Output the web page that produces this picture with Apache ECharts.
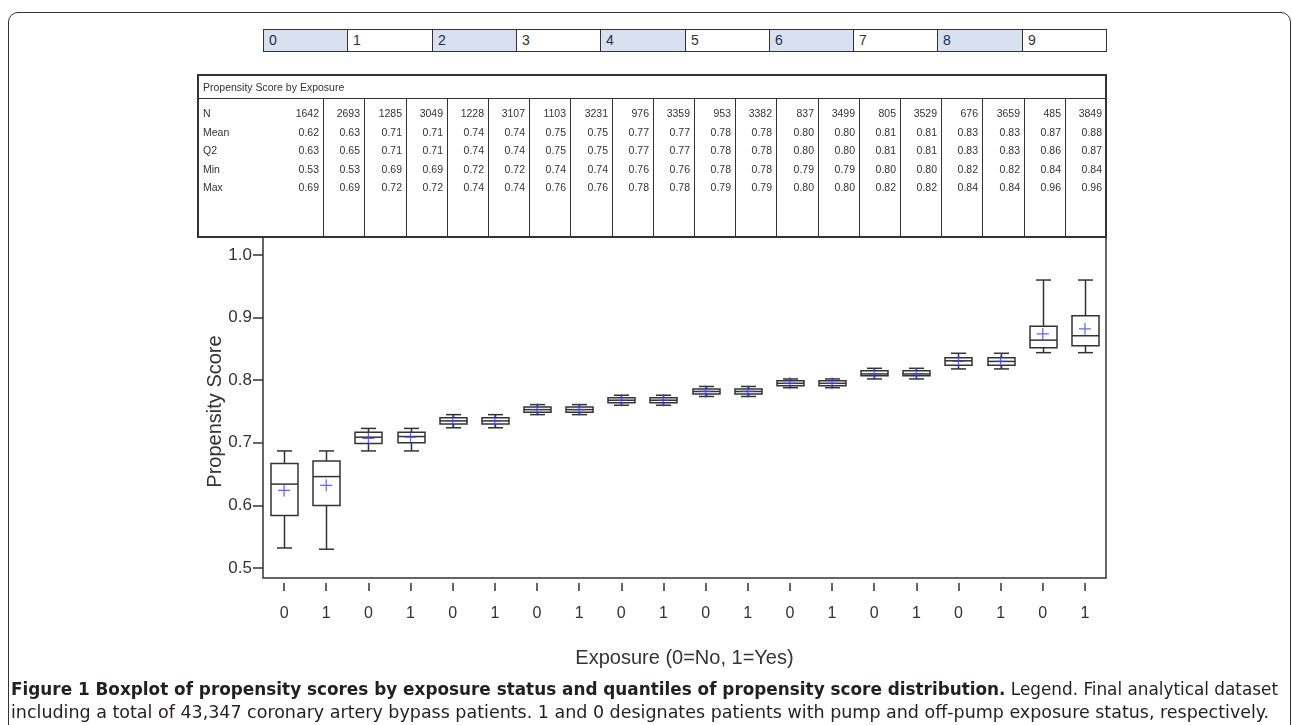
<!DOCTYPE html>
<html>
<head>
<meta charset="utf-8">
<title>Propensity score by exposure</title>
<script src="https://cdn.jsdelivr.net/npm/echarts/dist/echarts.min.js"></script>
<style>
  html, body { margin: 0; padding: 0; background: #fff; overflow: hidden; }
  body { width: 1292px; height: 725px; position: relative; font-family: "Liberation Sans", Arial, sans-serif; color: #333; }
  #frame { position: absolute; left: 8px; top: 12px; width: 1283px; height: 760px; box-sizing: border-box;
           border: 1.5px solid #333; border-radius: 10px; }
  #chart { position: absolute; left: 0; top: 0; width: 1292px; height: 725px; }
  .cell { position: absolute; box-sizing: border-box; border: 1.3px solid #333; font-size: 14px; line-height: 20px; padding-left: 5px; }
  .abs { position: absolute; white-space: nowrap; }
  .tline { position: absolute; background: #333; }
  .cap { position: absolute; left: 11px; white-space: nowrap; font-family: "Liberation Sans Narrow", "DejaVu Sans Condensed", sans-serif;
         font-size: 17px; color: #231f20; transform-origin: 0 50%; }
</style>
</head>
<body>
<div id="frame"></div>
<div id="chart"></div>
<div id="strip"></div>
<div id="table"></div>
<div class="cap" id="cap1" style="top:679px"><b>Figure 1 Boxplot of propensity scores by exposure status and quantiles of propensity score distribution.</b> Legend. Final analytical dataset</div>
<div class="cap" id="cap2" style="top:702px">including a total of 43,347 coronary artery bypass patients. 1 and 0 designates patients with pump and off-pump exposure status, respectively.</div>
<script>
// deciles of the propensity score (top strip)
var deciles = ['0', '1', '2', '3', '4', '5', '6', '7', '8', '9'];
// exposure per box (0=No, 1=Yes)
var exposure = ['0','1','0','1','0','1','0','1','0','1','0','1','0','1','0','1','0','1','0','1'];

// summary table
var tabN    = [1642, 2693, 1285, 3049, 1228, 3107, 1103, 3231, 976, 3359, 953, 3382, 837, 3499, 805, 3529, 676, 3659, 485, 3849];
var tabMean = ['0.62','0.63','0.71','0.71','0.74','0.74','0.75','0.75','0.77','0.77','0.78','0.78','0.80','0.80','0.81','0.81','0.83','0.83','0.87','0.88'];
var tabQ2   = ['0.63','0.65','0.71','0.71','0.74','0.74','0.75','0.75','0.77','0.77','0.78','0.78','0.80','0.80','0.81','0.81','0.83','0.83','0.86','0.87'];
var tabMin  = ['0.53','0.53','0.69','0.69','0.72','0.72','0.74','0.74','0.76','0.76','0.78','0.78','0.79','0.79','0.80','0.80','0.82','0.82','0.84','0.84'];
var tabMax  = ['0.69','0.69','0.72','0.72','0.74','0.74','0.76','0.76','0.78','0.78','0.79','0.79','0.80','0.80','0.82','0.82','0.84','0.84','0.96','0.96'];

// boxplot values
var whiskerLow  = [0.532, 0.530, 0.687, 0.687, 0.724, 0.724, 0.745, 0.745, 0.760, 0.760, 0.774, 0.774, 0.788, 0.788, 0.802, 0.802, 0.818, 0.818, 0.844, 0.844];
var q1          = [0.584, 0.600, 0.699, 0.700, 0.730, 0.730, 0.749, 0.749, 0.764, 0.764, 0.778, 0.778, 0.791, 0.791, 0.807, 0.807, 0.824, 0.824, 0.852, 0.855];
var median      = [0.634, 0.646, 0.709, 0.710, 0.735, 0.735, 0.753, 0.753, 0.768, 0.768, 0.782, 0.782, 0.795, 0.795, 0.810, 0.810, 0.831, 0.830, 0.864, 0.871];
var q3          = [0.667, 0.671, 0.717, 0.717, 0.740, 0.740, 0.757, 0.757, 0.772, 0.772, 0.786, 0.786, 0.799, 0.799, 0.815, 0.815, 0.836, 0.836, 0.886, 0.903];
var whiskerHigh = [0.687, 0.687, 0.723, 0.723, 0.745, 0.745, 0.761, 0.761, 0.776, 0.776, 0.790, 0.790, 0.802, 0.802, 0.819, 0.819, 0.843, 0.843, 0.960, 0.960];
var meanScore   = [0.624, 0.632, 0.707, 0.709, 0.735, 0.735, 0.753, 0.753, 0.768, 0.768, 0.782, 0.782, 0.795, 0.795, 0.810, 0.810, 0.830, 0.830, 0.874, 0.882];
var yTicks = [0.5, 1.0, 0.1]; // min, max, step

// --- layout of the plot
var PL = 263, PR = 1106;

// top strip
var strip = document.getElementById('strip');
var cw = (PR - PL) / deciles.length;
deciles.forEach(function (d, i) {
  var c = document.createElement('div');
  c.className = 'cell';
  c.style.left = Math.round(PL + i * cw) + 'px';
  c.style.top = '29px';
  c.style.width = (Math.round(PL + (i + 1) * cw) - Math.round(PL + i * cw) + 1) + 'px';
  c.style.height = '23px';
  c.style.background = i % 2 === 0 ? '#d9e1f1' : '#fff';
  c.style.color = i % 2 === 0 ? '#1f2a55' : '#333';
  c.textContent = d;
  strip.appendChild(c);
});

// summary table
var tbl = document.getElementById('table');
function add(el) { tbl.appendChild(el); return el; }
function line(x, y, w, h) {
  var l = document.createElement('div');
  l.className = 'tline';
  l.style.left = x + 'px'; l.style.top = y + 'px'; l.style.width = w + 'px'; l.style.height = h + 'px';
  return add(l);
}
function txt(s, x, y, right) {
  var t = document.createElement('div');
  t.className = 'abs';
  t.style.fontSize = '10.5px';
  t.style.lineHeight = '12px';
  t.style.top = (y - 6) + 'px';
  if (right) { t.style.right = (1292 - x) + 'px'; } else { t.style.left = x + 'px'; }
  t.textContent = s;
  return add(t);
}
var TL = 197, TT = 74, TB = 237, TR = 1106, C0 = 323.3;
line(TL, TT, TR - TL + 1, 2);
line(TL, TB - 1, TR - TL + 1, 2);
line(TL, TT, 2, TB - TT);
line(TR - 1, TT, 2, TB - TT);
line(TL, 98, TR - TL, 1);
txt('Propensity Score by Exposure', 203, 87);
var colW = (TR - C0) / (tabN.length - 1);
for (var k = 0; k < tabN.length - 1; k++) {
  line(Math.round(C0 + k * colW), 98, 1, TB - 98);
}
var rowNames = ['N', 'Mean', 'Q2', 'Min', 'Max'];
var rows = [tabN, tabMean, tabQ2, tabMin, tabMax];
var rowY = [113, 131.5, 150, 168.5, 186.5];
rowNames.forEach(function (nm, r) {
  txt(nm, 203, rowY[r]);
  rows[r].forEach(function (v, j) {
    var xr = Math.round(j === 0 ? C0 : C0 + j * colW) - 4;
    txt(String(v), xr, rowY[r], true);
  });
});

// --- chart
var boxData = exposure.map(function (e, i) {
  return [i, whiskerLow[i], q1[i], median[i], q3[i], whiskerHigh[i]];
});
var meanData = exposure.map(function (e, i) { return [i, meanScore[i]]; });

function renderBox(params, api) {
  var x = api.value(0);
  var lo = api.coord([x, api.value(1)]);
  var b1 = api.coord([x, api.value(2)]);
  var md = api.coord([x, api.value(3)]);
  var b3 = api.coord([x, api.value(4)]);
  var hi = api.coord([x, api.value(5)]);
  var cx = Math.round(lo[0]) + 0.5;
  var hw = 13.5, capW = 7.5;
  var st = { stroke: '#333', lineWidth: 1.5, fill: null };
  return {
    type: 'group',
    children: [
      { type: 'line', shape: { x1: cx, y1: lo[1], x2: cx, y2: b1[1] }, style: st },
      { type: 'line', shape: { x1: cx, y1: b3[1], x2: cx, y2: hi[1] }, style: st },
      { type: 'line', shape: { x1: cx - capW, y1: lo[1], x2: cx + capW, y2: lo[1] }, style: st },
      { type: 'line', shape: { x1: cx - capW, y1: hi[1], x2: cx + capW, y2: hi[1] }, style: st },
      { type: 'rect', shape: { x: cx - hw, y: b3[1], width: 2 * hw, height: b1[1] - b3[1] },
        style: { fill: '#fff', stroke: '#333', lineWidth: 1.5 } },
      { type: 'line', shape: { x1: cx - hw, y1: md[1], x2: cx + hw, y2: md[1] }, style: st }
    ]
  };
}

var chart = echarts.init(document.getElementById('chart'), null, { renderer: 'canvas' });
chart.setOption({
  animation: false,
  backgroundColor: 'transparent',
  textStyle: { fontFamily: '"Liberation Sans", Arial, sans-serif' },
  grid: [
    { left: PL, top: 237, width: PR - PL, height: 341, show: true, borderColor: '#333', borderWidth: 1.5, backgroundColor: 'transparent' },
    { left: PL, top: 255, width: PR - PL, height: 313 }
  ],
  xAxis: [
    { gridIndex: 0, type: 'value', show: false, min: 0, max: 1 },
    {
      gridIndex: 1, type: 'category', data: exposure, boundaryGap: true, offset: 15,
      axisLine: { show: false },
      axisTick: { show: true, alignWithLabel: true, length: 8, lineStyle: { color: '#333', width: 1.5 } },
      axisLabel: { fontSize: 16, color: '#333', margin: 23 },
      name: 'Exposure (0=No, 1=Yes)', nameLocation: 'middle', nameGap: 65,
      nameTextStyle: { fontSize: 20, color: '#333' }
    }
  ],
  yAxis: [
    { gridIndex: 0, type: 'value', show: false, min: 0, max: 1 },
    {
      gridIndex: 1, type: 'value', min: yTicks[0], max: yTicks[1], interval: yTicks[2],
      axisLine: { show: false },
      axisTick: { show: true, length: 10, lineStyle: { color: '#333', width: 1.5 } },
      axisLabel: { fontSize: 17, color: '#333', margin: 11, formatter: function (v) { return v.toFixed(1); } },
      splitLine: { show: false },
      name: 'Propensity Score', nameLocation: 'middle', nameGap: 38, nameMoveOverlap: false,
      nameTextStyle: { fontSize: 20, color: '#333' }
    }
  ],
  series: [
    {
      type: 'custom', xAxisIndex: 1, yAxisIndex: 1, renderItem: renderBox,
      encode: { x: 0, y: [1, 2, 3, 4, 5] }, data: boxData, z: 2
    },
    {
      type: 'scatter', xAxisIndex: 1, yAxisIndex: 1, data: meanData, z: 3,
      symbol: 'path://M9,0H11V9H20V11H11V20H9V11H0V9H9Z', symbolSize: 12,
      itemStyle: { color: '#3b3bff' }
    }
  ]
});

// fit caption lines to their printed widths
function fit(id, w) {
  var el = document.getElementById(id);
  var cur = el.getBoundingClientRect().width;
  if (cur > 0) el.style.transform = 'scaleX(' + (w / cur) + ')';
}
fit('cap1', 1267);
fit('cap2', 1258);
</script>
</body>
</html>
